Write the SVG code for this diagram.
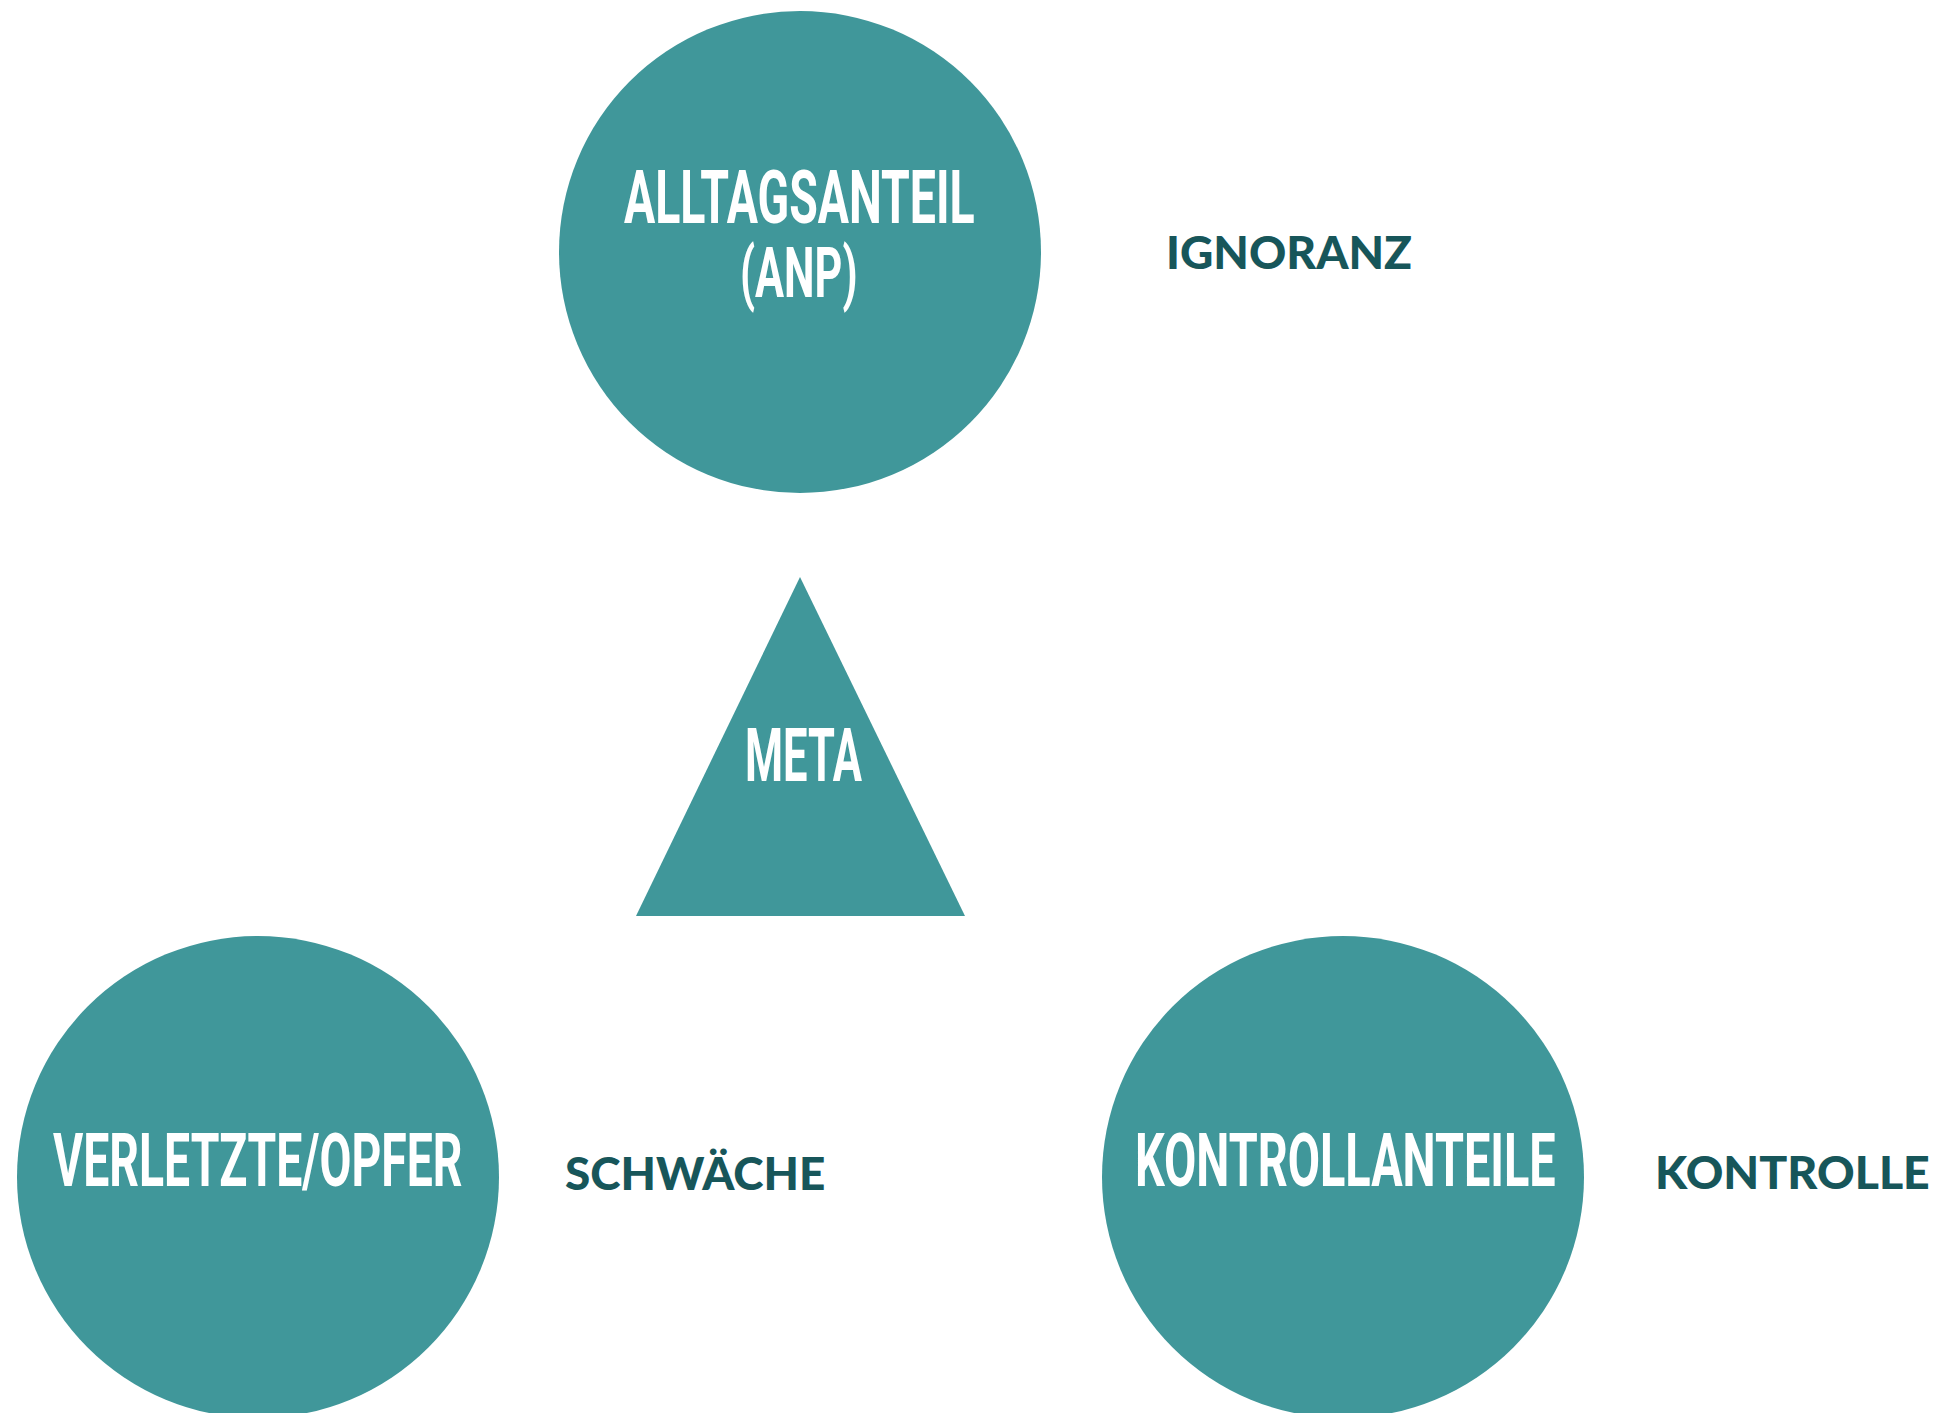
<svg xmlns="http://www.w3.org/2000/svg" width="1944" height="1413" viewBox="0 0 1944 1413">
<style>
.node{fill:#40979a}
.lbl{font-family:Roboto,"Liberation Sans",sans-serif;font-weight:700;font-size:75px;fill:#ffffff}
.side{font-family:Lato,"Open Sans","Liberation Sans",sans-serif;font-weight:900;font-size:45px;fill:#17565a}
</style>
<rect width="1944" height="1413" fill="#ffffff"/>
<g id="connectors"/>
<g id="node-anp">
<circle class="node" cx="800" cy="252" r="241"/>
<text class="lbl" transform="translate(624,223) scale(0.7,1)" textLength="501" lengthAdjust="spacingAndGlyphs">ALLTAGSANTEIL</text>
<text class="lbl" transform="translate(740,297) scale(0.7,1)" textLength="168" lengthAdjust="spacingAndGlyphs" style="font-size:70px">(ANP)</text>
</g>
<g id="label-ignoranz">
<text class="side" transform="translate(1166,269) scale(1.2,1)" textLength="205" lengthAdjust="spacingAndGlyphs">IGNORANZ</text>
</g>
<g id="node-meta">
<polygon class="node" points="800,577 965,916 636,916"/>
<text class="lbl" transform="translate(745,781) scale(0.7,1)" textLength="167" lengthAdjust="spacingAndGlyphs">META</text>
</g>
<g id="node-opfer">
<circle class="node" cx="258" cy="1177" r="241"/>
<text class="lbl" transform="translate(53,1186) scale(0.7,1)" textLength="585" lengthAdjust="spacingAndGlyphs">VERLETZTE/OPFER</text>
</g>
<g id="label-schwaeche">
<text class="side" transform="translate(565,1190) scale(1.2,1)" textLength="217" lengthAdjust="spacingAndGlyphs">SCHWÄCHE</text>
</g>
<g id="node-kontrollanteile">
<circle class="node" cx="1343" cy="1177" r="241"/>
<text class="lbl" transform="translate(1135,1186) scale(0.7,1)" textLength="601" lengthAdjust="spacingAndGlyphs">KONTROLLANTEILE</text>
</g>
<g id="label-kontrolle">
<text class="side" transform="translate(1655,1189) scale(1.2,1)" textLength="229" lengthAdjust="spacingAndGlyphs">KONTROLLE</text>
</g>
</svg>
